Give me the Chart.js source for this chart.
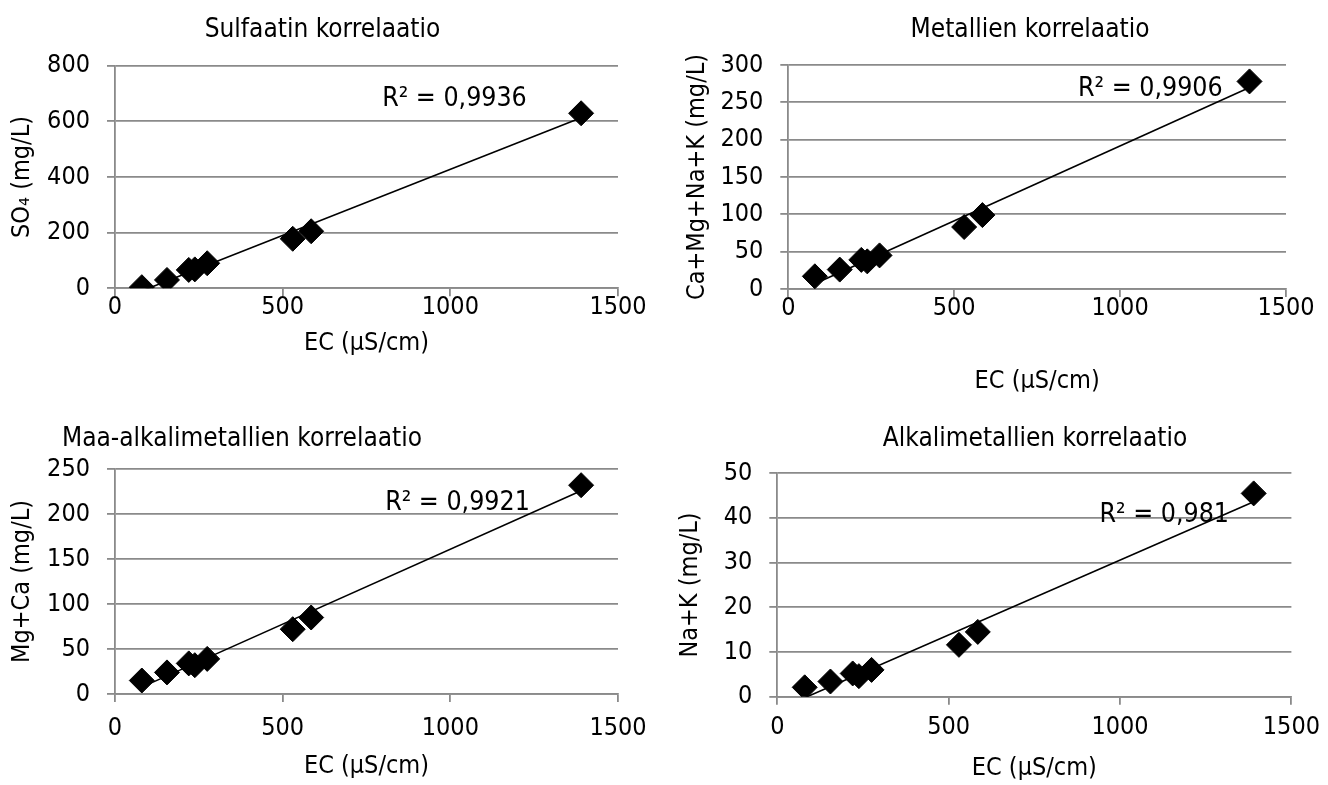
<!DOCTYPE html>
<html lang="fi">
<head>
<meta charset="utf-8">
<title>Korrelaatiot</title>
<script src="https://cdn.jsdelivr.net/npm/chart.js@4.4.1/dist/chart.umd.min.js"></script>
<style>
  html, body { margin: 0; padding: 0; background: #fff; }
  body { width: 1328px; height: 785px; position: relative; overflow: hidden; }
  canvas { position: absolute; }
</style>
</head>
<body>
<canvas id="c1"></canvas>
<canvas id="c2"></canvas>
<canvas id="c3"></canvas>
<canvas id="c4"></canvas>
<script>
// Sähkönjohtavuus (µS/cm) ja ionipitoisuudet (mg/L) samoista näytteistä
const ecValues = [80, 155, 220, 238, 275, 530, 585, 1390];
const sulfate = [4, 30, 66, 68, 90, 178, 205, 629];
const metals = [17, 26, 39, 37, 45, 83, 99, 278];
const earthAlkali = [15, 24, 34, 32, 39, 72, 85, 232];
const alkali = [2.1, 3.4, 5.2, 4.6, 6.0, 11.6, 14.5, 45.5];

// Akselien jakoviivat
const ecTicks = [0, 500, 1000, 1500];
const sulfateTicks = [0, 200, 400, 600, 800];
const metalTicks = [0, 50, 100, 150, 200, 250, 300];
const earthAlkaliTicks = [0, 50, 100, 150, 200, 250];
const alkaliTicks = [0, 10, 20, 30, 40, 50];

const FONT = '"DejaVu Sans Condensed", "DejaVu Sans", Tahoma, sans-serif';
const GRID = '#8a8a8a';
const AXIS_SIZE = 25;

// pienimmän neliösumman suora
function trend(xs, ys) {
  const n = xs.length;
  const mx = xs.reduce((a, b) => a + b, 0) / n;
  const my = ys.reduce((a, b) => a + b, 0) / n;
  let sxy = 0, sxx = 0;
  for (let i = 0; i < n; i++) {
    sxy += (xs[i] - mx) * (ys[i] - my);
    sxx += (xs[i] - mx) * (xs[i] - mx);
  }
  const k = sxy / sxx;
  const b = my - k * mx;
  const x0 = Math.min(...xs), x1 = Math.max(...xs);
  return [{ x: x0, y: k * x0 + b }, { x: x1, y: k * x1 + b }];
}

// otsikko ja R²-teksti piirretään itse
const chartText = {
  id: 'chartText',
  afterDraw(chart, args, opts) {
    const ctx = chart.ctx;
    ctx.save();
    ctx.fillStyle = '#000';
    ctx.font = opts.titleSize + 'px ' + FONT;
    ctx.textAlign = 'center';
    ctx.textBaseline = 'alphabetic';
    ctx.fillText(opts.title, opts.titleX, opts.titleY);

    ctx.font = opts.labelSize + 'px ' + FONT;
    ctx.textAlign = 'right';
    ctx.textBaseline = 'middle';
    const px = chart.scales.x.getPixelForValue(opts.r2At[0]);
    const py = chart.scales.y.getPixelForValue(opts.r2At[1]);
    ctx.fillText(opts.r2Text, px, py);
    ctx.restore();
  }
};

const panels = [
  {
    id: 'c1', box: [0, 0, 664, 392], plot: [115, 65.7, 618, 288.3],
    title: 'Sulfaatin korrelaatio', titleAt: [322.5, 36.7],
    yTitle: 'SO₄ (mg/L)', yTitleX: 22.5, xTitleY: 343, xTickPad: -4,
    values: sulfate, yTicks: sulfateTicks,
    r2Text: 'R² = 0,9936', r2At: [1228, 681]
  },
  {
    id: 'c2', box: [664, 0, 664, 392], plot: [788.3, 65, 1286, 289],
    title: 'Metallien korrelaatio', titleAt: [1030, 36.7],
    yTitle: 'Ca+Mg+Na+K (mg/L)', yTitleX: 697, xTitleY: 381, xTickPad: -4,
    values: metals, yTicks: metalTicks,
    r2Text: 'R² = 0,9906', r2At: [1309, 268]
  },
  {
    id: 'c3', box: [0, 392, 664, 393], plot: [115, 469, 618, 694],
    title: 'Maa-alkalimetallien korrelaatio', titleAt: [242, 446],
    yTitle: 'Mg+Ca (mg/L)', yTitleX: 22.5, xTitleY: 766, xTickPad: 11,
    values: earthAlkali, yTicks: earthAlkaliTicks,
    r2Text: 'R² = 0,9921', r2At: [1237, 212]
  },
  {
    id: 'c4', box: [664, 392, 664, 393], plot: [777.3, 473.3, 1295, 696.7],
    title: 'Alkalimetallien korrelaatio', titleAt: [1035, 446],
    yTitle: 'Na+K (mg/L)', yTitleX: 690, xTitleY: 768, xTickPad: 8,
    values: alkali, yTicks: alkaliTicks,
    r2Text: 'R² = 0,981', r2At: [1318, 40.7]
  }
];

panels.forEach((p) => {
  const [bl, bt, bw, bh] = p.box;
  const [pl, pt, pr, pb] = p.plot;
  const canvas = document.getElementById(p.id);
  canvas.width = bw;
  canvas.height = bh;
  canvas.style.left = bl + 'px';
  canvas.style.top = bt + 'px';

  const points = ecValues.map((x, i) => ({ x: x, y: p.values[i] }));
  const axisFont = { family: FONT, size: AXIS_SIZE };
  const lh = AXIS_SIZE * 1.2;

  new Chart(canvas.getContext('2d'), {
    type: 'scatter',
    data: {
      datasets: [
        {
          data: points,
          pointStyle: 'rectRot',
          pointRadius: 12.5,
          pointBorderWidth: 1,
          backgroundColor: '#000',
          borderColor: '#000'
        },
        {
          type: 'line',
          data: trend(ecValues, p.values),
          showLine: true,
          borderColor: '#000',
          borderWidth: 1.6,
          pointRadius: 0,
          fill: false
        }
      ]
    },
    options: {
      responsive: false,
      animation: false,
      layout: { padding: { left: 0, top: pt - bt, right: bl + bw - pr, bottom: 0 } },
      plugins: {
        legend: { display: false },
        tooltip: { enabled: false },
        chartText: {
          title: p.title, titleX: p.titleAt[0] - bl, titleY: p.titleAt[1] - bt, titleSize: 26,
          labelSize: 26.5, r2Text: p.r2Text, r2At: p.r2At
        }
      },
      scales: {
        x: {
          type: 'linear',
          min: ecTicks[0],
          max: ecTicks[ecTicks.length - 1],
          afterBuildTicks: (s) => { s.ticks = ecTicks.map((v) => ({ value: v })); },
          afterFit: (s) => { s.height = bt + bh - pb; },
          ticks: { color: '#000', font: axisFont, padding: p.xTickPad, maxRotation: 0, callback: (v) => String(v) },
          grid: { color: 'rgba(0,0,0,0)', tickColor: GRID, tickLength: 8, lineWidth: 1.8 },
          border: { color: GRID, width: 1.8 },
          title: {
            display: true, text: 'EC (µS/cm)', color: '#000', font: axisFont,
            padding: { top: 0, bottom: bt + bh - p.xTitleY - lh / 2 }
          }
        },
        y: {
          type: 'linear',
          min: p.yTicks[0],
          max: p.yTicks[p.yTicks.length - 1],
          afterBuildTicks: (s) => { s.ticks = p.yTicks.map((v) => ({ value: v })); },
          afterFit: (s) => { s.width = pl - bl; },
          ticks: { color: '#000', font: axisFont, padding: 17, callback: (v) => String(v) },
          grid: { color: GRID, tickColor: GRID, tickLength: 8, lineWidth: 1.8 },
          border: { color: GRID, width: 1.8 },
          title: {
            display: true, text: p.yTitle, color: '#000', font: axisFont,
            padding: { top: p.yTitleX - bl - lh / 2, bottom: 0 }
          }
        }
      }
    },
    plugins: [chartText]
  });
});
</script>
</body>
</html>
